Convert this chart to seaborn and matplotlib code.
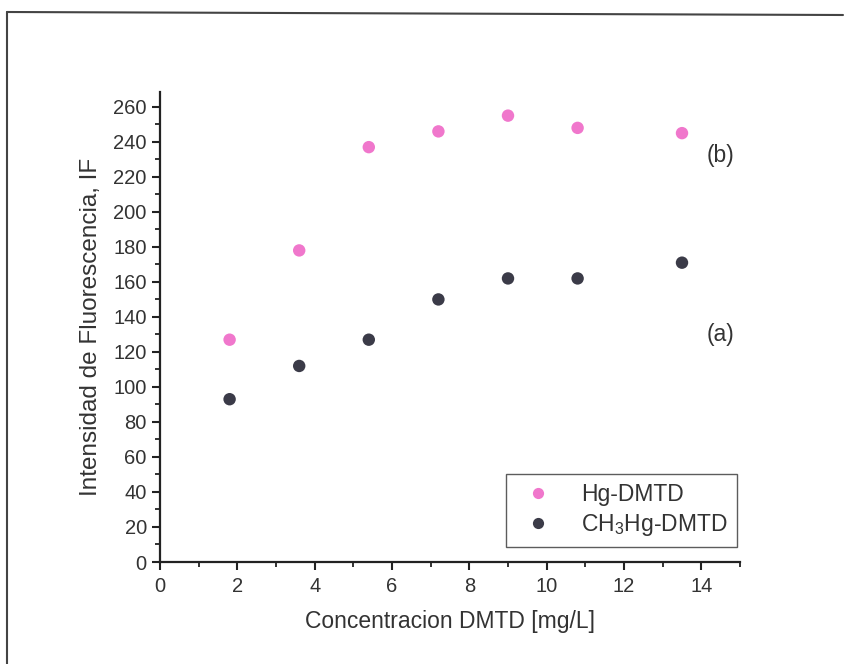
import numpy as np
import pandas as pd
import matplotlib
matplotlib.use("Agg")
import matplotlib.pyplot as plt
import seaborn as sns
from matplotlib.lines import Line2D
from matplotlib.ticker import MultipleLocator

conc = [1.8, 3.6, 5.4, 7.2, 9.0, 10.8, 13.5]
hg_dmtd = [127, 178, 237, 246, 255, 248, 245]
ch3hg_dmtd = [93, 112, 127, 150, 162, 162, 171]
series_names = ["Hg-DMTD", "CH$_3$Hg-DMTD"]
x_ticks = [0, 2, 4, 6, 8, 10, 12, 14]
y_ticks = list(range(0, 261, 20))

df = pd.DataFrame({
    "x": conc * 2,
    "y": hg_dmtd + ch3hg_dmtd,
    "serie": [series_names[0]] * len(conc) + [series_names[1]] * len(conc),
})

sns.set_style("white")
plt.rcParams["font.family"] = ["Liberation Sans", "DejaVu Sans"]
plt.rcParams["mathtext.fontset"] = "custom"
plt.rcParams["mathtext.rm"] = "Liberation Sans"

fig = plt.figure(figsize=(8.46, 6.64), dpi=100)
ax = fig.add_axes([160 / 846, 1 - 562 / 664, 580 / 846, 470 / 664])

palette = {series_names[0]: "#f077cc", series_names[1]: "#3b3b48"}
sns.scatterplot(data=df, x="x", y="y", hue="serie", palette=palette, s=80,
                edgecolor="none", ax=ax, legend=True)

ax.set_xlim(0, 15)
ax.set_ylim(0, 268.5)
ax.set_xticks(x_ticks)
ax.set_yticks(y_ticks)
ax.xaxis.set_minor_locator(MultipleLocator(1))
ax.yaxis.set_minor_locator(MultipleLocator(10))
for s in ["top", "right"]:
    ax.spines[s].set_visible(False)
for s in ["left", "bottom"]:
    ax.spines[s].set_color("#222222")
    ax.spines[s].set_linewidth(1.6)
ax.tick_params(which="major", direction="out", length=6, width=1.5, colors="#222222",
               labelsize=14.5, left=True, bottom=True, labelcolor="#333333")
ax.tick_params(axis="x", which="major", pad=5)
ax.tick_params(which="minor", direction="out", length=3.5, width=1.3, colors="#222222",
               left=True, bottom=True)
ax.set_xlabel("Concentracion DMTD [mg/L]", fontsize=16.5, color="#333333", labelpad=10)
ax.set_ylabel("Intensidad de Fluorescencia, IF", fontsize=17.5, color="#333333", labelpad=8)

ax.text(14.85, 232, "(b)", fontsize=16.5, color="#333333", ha="right", va="center")
ax.text(14.85, 130, "(a)", fontsize=16.5, color="#333333", ha="right", va="center")

leg = ax.legend(loc="lower right", bbox_to_anchor=(0.995, 0.032), borderaxespad=0,
                frameon=True, fancybox=False, fontsize=16.5, handletextpad=0.9,
                borderpad=0.4, labelspacing=0.25, markerscale=0.9, handlelength=2.0)
leg.get_frame().set_edgecolor("#333333")
leg.get_frame().set_linewidth(1.0)
for t in leg.get_texts():
    t.set_color("#333333")

# outer frame of the scanned figure
fig.add_artist(Line2D([7 / 846, 7 / 846], [0, 1 - 12 / 664], transform=fig.transFigure,
                      color="#444444", lw=1.5))
fig.add_artist(Line2D([7 / 846, 843 / 846], [1 - 12 / 664, 1 - 15 / 664], transform=fig.transFigure,
                      color="#444444", lw=1.5))

fig.savefig("out.png", dpi=100)
